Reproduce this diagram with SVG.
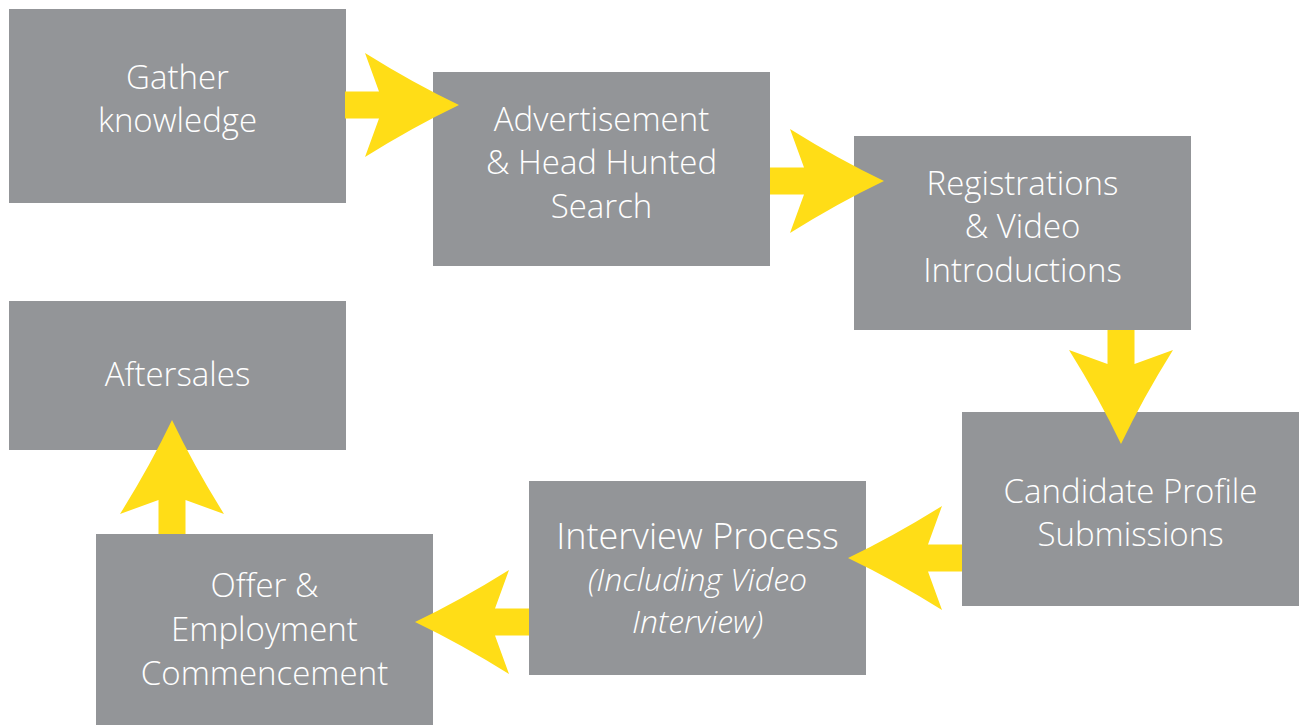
<svg xmlns="http://www.w3.org/2000/svg" width="1302" height="725" viewBox="0 0 1302 725">
<style>
.box{fill:#939598}
.t{fill:#ffffff;font-family:"Open Sans","Lato","Liberation Sans",sans-serif;font-weight:300;font-size:33px;text-anchor:middle}
.big{font-size:36px}
.i{font-style:italic;font-size:32px}
.arr{fill:#ffdd17}
</style>
<defs>
<path id="ar" d="M0,-13.5 L34,-13.5 L20,-52 Q68,-22 114,0 Q68,22 20,52 L34,13.5 L0,13.5 Z"/>
</defs>
<rect width="1302" height="725" fill="#ffffff"/>
<g id="n1"><rect class="box" x="9" y="9" width="337" height="194"/>
<text class="t" x="177.5" y="89">Gather</text><text class="t" x="177.5" y="132">knowledge</text></g>
<g id="n2"><rect class="box" x="433" y="72" width="337" height="194"/>
<text class="t" x="601.5" y="131">Advertisement</text><text class="t" x="601.5" y="174">&amp; Head Hunted</text><text class="t" x="601.5" y="218">Search</text></g>
<g id="n3"><rect class="box" x="854" y="136" width="337" height="194"/>
<text class="t" x="1022.5" y="195">Registrations</text><text class="t" x="1022.5" y="238">&amp; Video</text><text class="t" x="1022.5" y="282">Introductions</text></g>
<g id="n4"><rect class="box" x="9" y="301" width="337" height="149"/>
<text class="t" x="177.5" y="386">Aftersales</text></g>
<g id="n5"><rect class="box" x="962" y="412" width="337" height="194"/>
<text class="t" x="1130.5" y="503">Candidate Profile</text><text class="t" x="1130.5" y="546">Submissions</text></g>
<g id="n6"><rect class="box" x="529" y="481" width="337" height="194"/>
<text class="t big" x="697.5" y="549">Interview Process</text><text class="t i" x="697.5" y="591">(Including Video</text><text class="t i" x="697.5" y="633">Interview)</text></g>
<g id="n7"><rect class="box" x="96" y="534" width="337" height="191"/>
<text class="t" x="264.5" y="597">Offer &amp;</text><text class="t" x="264.5" y="641">Employment</text><text class="t" x="264.5" y="685">Commencement</text></g>
<g id="connectors" class="arr">
<use href="#ar" transform="translate(345,105)"/>
<use href="#ar" transform="translate(770,181)"/>
<use href="#ar" transform="translate(1121,330) rotate(90)"/>
<use href="#ar" transform="translate(962,558) rotate(180)"/>
<use href="#ar" transform="translate(529,622) rotate(180)"/>
<use href="#ar" transform="translate(172,534) rotate(-90)"/>
</g>
</svg>
